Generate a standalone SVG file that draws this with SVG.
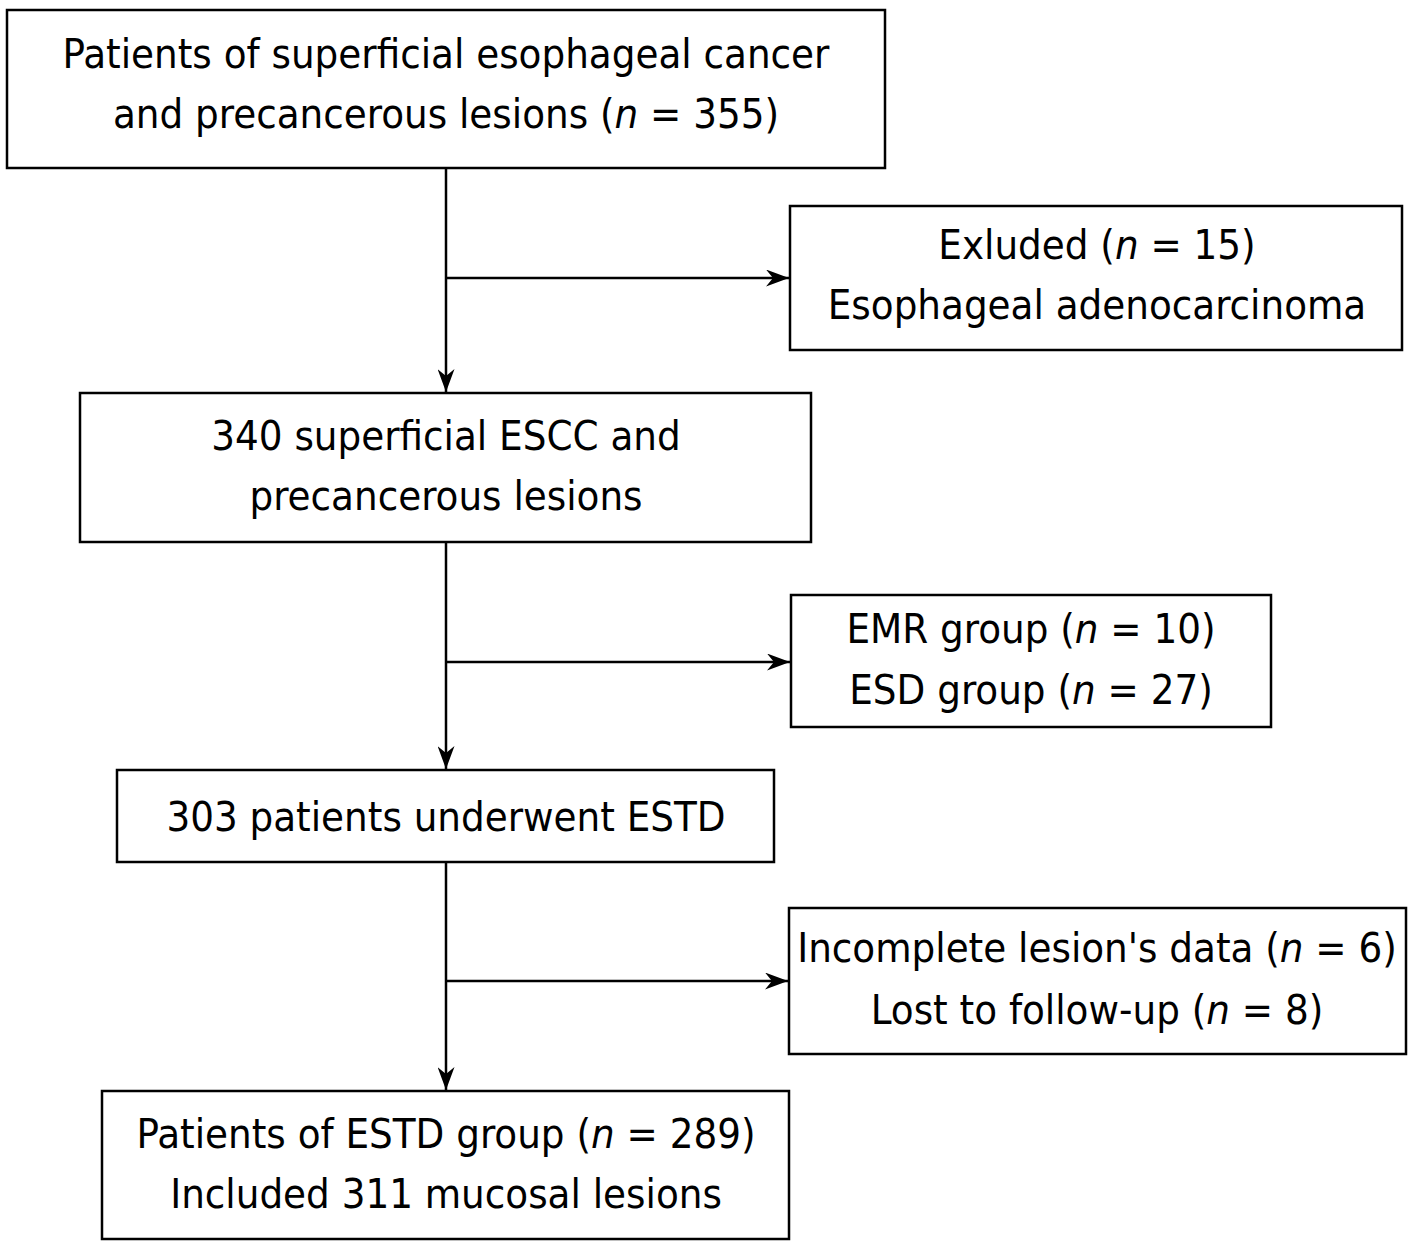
<svg xmlns="http://www.w3.org/2000/svg" width="1416" height="1250" viewBox="0 0 1416 1250">
<defs>
<style>
.box{fill:#fff;stroke:#000;stroke-width:2.5}
.t{font-family:"DejaVu Sans Condensed","DejaVu Sans",sans-serif;font-size:41.5px;fill:#000;text-anchor:middle}
.i{font-style:italic}
.c{stroke:#000;stroke-width:2.5;fill:none}
</style>
<marker id="ah" viewBox="0 0 23 17" refX="23" refY="8.5" markerWidth="23" markerHeight="17" markerUnits="userSpaceOnUse" orient="auto">
<path d="M0,0 L23,8.5 L0,17 L7,8.5 Z" fill="#000"/>
</marker>
</defs>
<rect width="1416" height="1250" fill="#fff"/>
<g id="connectors">
<line class="c" x1="446" y1="168" x2="446" y2="392" marker-end="url(#ah)"/>
<line class="c" x1="446" y1="278" x2="789" y2="278" marker-end="url(#ah)"/>
<line class="c" x1="446" y1="542" x2="446" y2="769" marker-end="url(#ah)"/>
<line class="c" x1="446" y1="662" x2="790" y2="662" marker-end="url(#ah)"/>
<line class="c" x1="446" y1="862" x2="446" y2="1090" marker-end="url(#ah)"/>
<line class="c" x1="446" y1="981" x2="788" y2="981" marker-end="url(#ah)"/>
</g>
<g id="n1">
<rect class="box" x="7" y="10" width="878" height="158"/>
<text class="t" x="446" y="68">Patients of superficial esophageal cancer</text>
<text class="t" x="446" y="128">and precancerous lesions (<tspan class="i">n</tspan> = 355)</text>
</g>
<g id="n2">
<rect class="box" x="790" y="206" width="612" height="144"/>
<text class="t" x="1097" y="259">Exluded (<tspan class="i">n</tspan> = 15)</text>
<text class="t" x="1097" y="319">Esophageal adenocarcinoma</text>
</g>
<g id="n3">
<rect class="box" x="80" y="393" width="731" height="149"/>
<text class="t" x="446" y="450">340 superficial ESCC and</text>
<text class="t" x="446" y="510">precancerous lesions</text>
</g>
<g id="n4">
<rect class="box" x="791" y="595" width="480" height="132"/>
<text class="t" x="1031" y="643">EMR group (<tspan class="i">n</tspan> = 10)</text>
<text class="t" x="1031" y="704">ESD group (<tspan class="i">n</tspan> = 27)</text>
</g>
<g id="n5">
<rect class="box" x="117" y="770" width="657" height="92"/>
<text class="t" x="446" y="831">303 patients underwent ESTD</text>
</g>
<g id="n6">
<rect class="box" x="789" y="908" width="617" height="146"/>
<text class="t" x="1097" y="962">Incomplete lesion's data (<tspan class="i">n</tspan> = 6)</text>
<text class="t" x="1097" y="1024">Lost to follow-up (<tspan class="i">n</tspan> = 8)</text>
</g>
<g id="n7">
<rect class="box" x="102" y="1091" width="687" height="148"/>
<text class="t" x="446" y="1148">Patients of ESTD group (<tspan class="i">n</tspan> = 289)</text>
<text class="t" x="446" y="1208">Included 311 mucosal lesions</text>
</g>
</svg>
